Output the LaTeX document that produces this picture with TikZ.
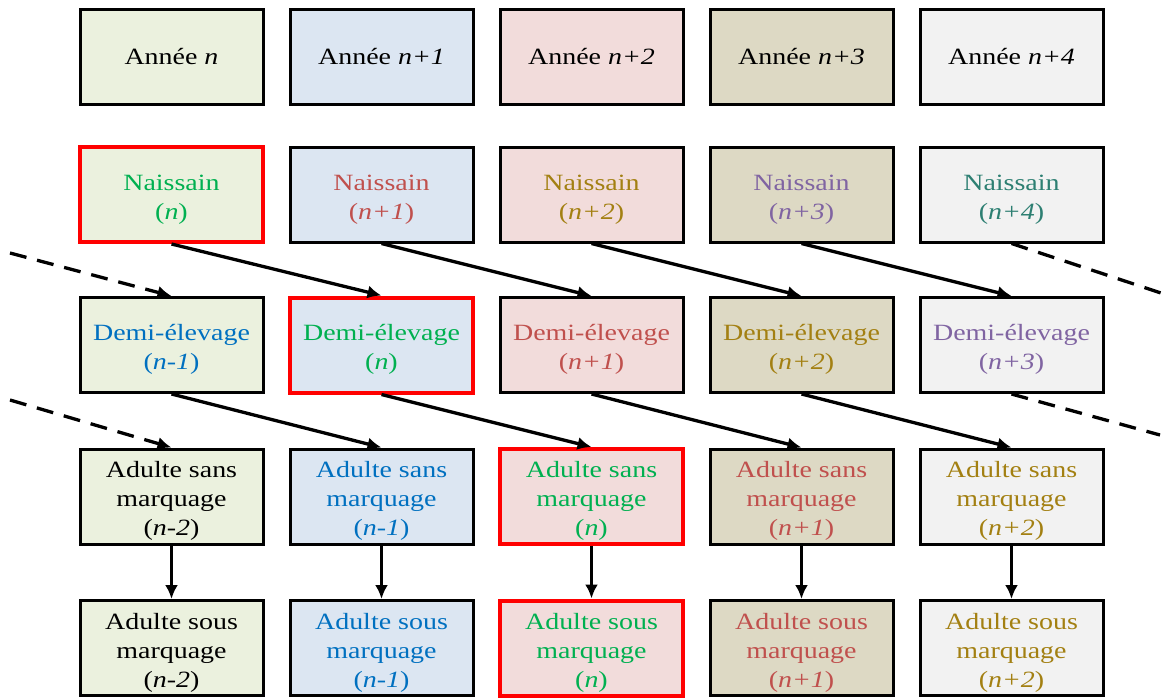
\documentclass[tikz,border=0pt]{standalone}
\usepackage{fontspec}
\setmainfont{Liberation Serif}[FakeStretch=1.2]
\usetikzlibrary{arrows.meta}
\definecolor{fA}{HTML}{EBF1DE}
\definecolor{fB}{HTML}{DCE6F2}
\definecolor{fC}{HTML}{F2DCDB}
\definecolor{fD}{HTML}{DDD9C4}
\definecolor{fE}{HTML}{F2F2F2}
\definecolor{tGreen}{HTML}{00B050}
\definecolor{tRed}{HTML}{C0504D}
\definecolor{tGold}{HTML}{A38012}
\definecolor{tPurple}{HTML}{8064A2}
\definecolor{tTeal}{HTML}{2D7F72}
\definecolor{tBlue}{HTML}{0070C0}
\definecolor{hl}{HTML}{FF0000}
\newcommand\hs{\rule{0pt}{25pt}}
\tikzset{
  box/.style={draw=black, line width=3pt, rectangle, minimum width=183pt, minimum height=95pt, inner sep=0pt, align=center, font=\fontsize{23.3}{29}\selectfont},
  hot/.style={draw=hl, line width=4pt},
  arr/.style={line width=3.3pt, -{Latex[length=14pt,width=13pt]}},
  dash arr/.style={line width=3.3pt, dash pattern=on 17pt off 11pt, -{Latex[length=14pt,width=13pt]}},
  dash line/.style={line width=3.3pt, dash pattern=on 17pt off 11pt},
}
\begin{document}
\begin{tikzpicture}[x=1pt,y=-1pt]
\useasboundingbox (0,0) rectangle (1170,697);
% row 1
\node[box, fill=fA] (y1) at (171.5,57) {Année \textit{n}};
\node[box, fill=fB] (y2) at (381.5,57) {Année \textit{n+1}};
\node[box, fill=fC] (y3) at (591.5,57) {Année \textit{n+2}};
\node[box, fill=fD] (y4) at (801.5,57) {Année \textit{n+3}};
\node[box, fill=fE] (y5) at (1011.5,57) {Année \textit{n+4}};
% row 2
\node[box, hot, fill=fA, text=tGreen] (n1) at (171.5,194.5) {\hs Naissain\\(\textit{n})};
\node[box, fill=fB, text=tRed] (n2) at (381.5,194.5) {\hs Naissain\\(\textit{n+1})};
\node[box, fill=fC, text=tGold] (n3) at (591.5,194.5) {\hs Naissain\\(\textit{n+2})};
\node[box, fill=fD, text=tPurple] (n4) at (801.5,194.5) {\hs Naissain\\(\textit{n+3})};
\node[box, fill=fE, text=tTeal] (n5) at (1011.5,194.5) {\hs Naissain\\(\textit{n+4})};
% row 3
\node[box, fill=fA, text=tBlue] (d1) at (171.5,345) {\hs Demi-élevage\\(\textit{n-1})};
\node[box, hot, fill=fB, text=tGreen] (d2) at (381.5,345) {\hs Demi-élevage\\(\textit{n})};
\node[box, fill=fC, text=tRed] (d3) at (591.5,345) {\hs Demi-élevage\\(\textit{n+1})};
\node[box, fill=fD, text=tGold] (d4) at (801.5,345) {\hs Demi-élevage\\(\textit{n+2})};
\node[box, fill=fE, text=tPurple] (d5) at (1011.5,345) {\hs Demi-élevage\\(\textit{n+3})};
% row 4
\node[box, fill=fA, text=black] (a1) at (171.5,496.5) {\hs Adulte sans\\marquage\\(\textit{n-2})};
\node[box, fill=fB, text=tBlue] (a2) at (381.5,496.5) {\hs Adulte sans\\marquage\\(\textit{n-1})};
\node[box, hot, fill=fC, text=tGreen] (a3) at (591.5,496.5) {\hs Adulte sans\\marquage\\(\textit{n})};
\node[box, fill=fD, text=tRed] (a4) at (801.5,496.5) {\hs Adulte sans\\marquage\\(\textit{n+1})};
\node[box, fill=fE, text=tGold] (a5) at (1011.5,496.5) {\hs Adulte sans\\marquage\\(\textit{n+2})};
% row 5
\node[box, fill=fA, text=black] (m1) at (171.5,648) {\hs Adulte sous\\marquage\\(\textit{n-2})};
\node[box, fill=fB, text=tBlue] (m2) at (381.5,648) {\hs Adulte sous\\marquage\\(\textit{n-1})};
\node[box, hot, fill=fC, text=tGreen] (m3) at (591.5,648) {\hs Adulte sous\\marquage\\(\textit{n})};
\node[box, fill=fD, text=tRed] (m4) at (801.5,648) {\hs Adulte sous\\marquage\\(\textit{n+1})};
\node[box, fill=fE, text=tGold] (m5) at (1011.5,648) {\hs Adulte sous\\marquage\\(\textit{n+2})};
% diagonal arrows
\foreach \a/\b in {n1/d2,n2/d3,n3/d4,n4/d5,d1/a2,d2/a3,d3/a4,d4/a5}
  \draw[arr] (\a.south) -- (\b.north);
% vertical arrows
\foreach \i in {1,...,5}
  \draw[arr] (a\i.south) -- (m\i.north);
% dashed incoming / outgoing
\coordinate (inD) at (10,253);
\coordinate (inA) at (10,400);
\coordinate (outN) at (1170,296);
\coordinate (outD) at (1160,435);
\draw[dash arr] (inD) -- (d1.north);
\draw[dash arr] (inA) -- (a1.north);
\draw[dash line] (n5.south) -- (outN);
\draw[dash line] (d5.south) -- (outD);
\end{tikzpicture}
\end{document}
